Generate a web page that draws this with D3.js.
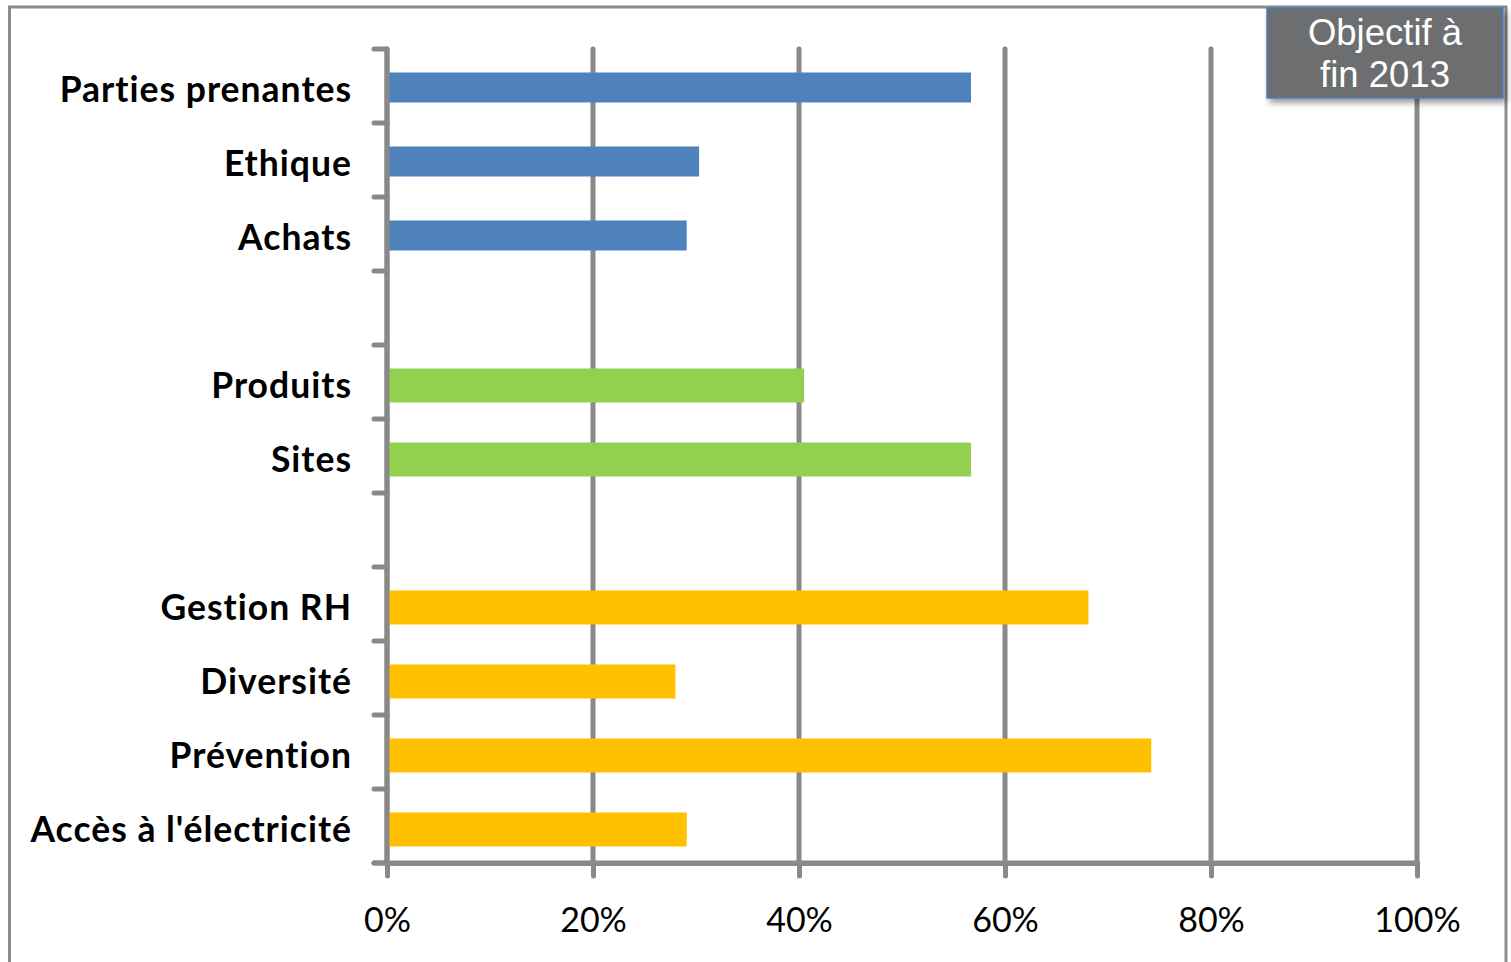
<!DOCTYPE html>
<html>
<head>
<meta charset="utf-8">
<script src="https://cdn.jsdelivr.net/npm/d3@7"></script>
<style>
  html, body { margin: 0; padding: 0; background: #fff; }
  svg { display: block; }
  text { font-variant-ligatures: none; }
</style>
</head>
<body>
<svg id="chart" width="1511" height="962"></svg>
<script>
// ---- data ----
const categories = ["Parties prenantes", "Ethique", "Achats", "gap1", "Produits", "Sites", "gap2", "Gestion RH", "Diversité", "Prévention", "Accès à l'électricité"];
const groups     = ["A", "A", "A", null, "B", "B", null, "C", "C", "C", "C"];
const values     = [0.567, 0.303, 0.291, null, 0.405, 0.567, null, 0.681, 0.280, 0.742, 0.291];
const xTicks     = [0, 0.2, 0.4, 0.6, 0.8, 1.0];
const boxLines   = ["Objectif à", "fin 2013"];

// ---- styles ----
const groupColor  = { A: "#4f81bd", B: "#92d050", C: "#ffc000" };
const groupHeight = { A: 30, B: 34, C: 34 };
const groupShift  = { A: 1.5, B: 3.5, C: 3.5 };
const axisColor = "#898989";

const svg = d3.select("#chart");

// outer frame
svg.append("rect")
  .attr("x", 9.5).attr("y", 7).attr("width", 1496.5).attr("height", 970)
  .attr("fill", "none").attr("stroke", "#8c8c8c").attr("stroke-width", 3);

const x = d3.scaleLinear().domain([0, 1]).range([387, 1417]);
const y = d3.scaleBand().domain(categories).range([49, 863]).padding(0);

// gridlines
svg.append("g")
  .selectAll("line").data(xTicks).join("line")
  .attr("x1", d => x(d)).attr("x2", d => x(d))
  .attr("y1", 49).attr("y2", 863)
  .attr("stroke", axisColor).attr("stroke-width", 5).attr("stroke-linecap", "round");

// bars
const rows = categories.map((c, i) => ({ c, g: groups[i], v: values[i] })).filter(d => d.v !== null);
svg.append("g")
  .selectAll("rect").data(rows).join("rect")
  .attr("x", x(0))
  .attr("y", d => y(d.c) + y.bandwidth() / 2 - groupHeight[d.g] / 2 + groupShift[d.g])
  .attr("width", d => x(d.v) - x(0))
  .attr("height", d => groupHeight[d.g])
  .attr("fill", d => groupColor[d.g]);

// x axis
const xAxis = d3.axisBottom(x).tickValues(xTicks).tickFormat(d3.format(".0%"))
  .tickSizeInner(13).tickSizeOuter(0).tickPadding(20);
const gx = svg.append("g").attr("transform", "translate(0,863)").call(xAxis);
gx.select(".domain").attr("stroke", axisColor).attr("stroke-width", 5);
gx.selectAll(".tick line").attr("stroke", axisColor).attr("stroke-width", 5).attr("stroke-linecap", "round");
gx.selectAll(".tick text")
  .attr("font-family", "Lato, sans-serif").attr("font-size", 34).attr("fill", "#000")
  .attr("dy", null).attr("y", 0)
  .attr("transform", "translate(0,69)");

// y axis line and boundary ticks
const boundaries = categories.map(c => y(c)).concat([y.range()[1]]);
svg.append("line")
  .attr("x1", x(0)).attr("x2", x(0)).attr("y1", 49).attr("y2", 863)
  .attr("stroke", axisColor).attr("stroke-width", 5);
svg.append("g").selectAll("line").data(boundaries).join("line")
  .attr("x1", 374).attr("x2", x(0)).attr("y1", d => d).attr("y2", d => d)
  .attr("stroke", axisColor).attr("stroke-width", 5).attr("stroke-linecap", "round");
svg.append("line")
  .attr("x1", 374).attr("x2", x(1)).attr("y1", 863).attr("y2", 863)
  .attr("stroke", axisColor).attr("stroke-width", 5).attr("stroke-linecap", "round");

// category labels
svg.append("g").selectAll("text").data(rows).join("text")
  .attr("x", 352)
  .attr("y", d => y(d.c) + y.bandwidth() / 2 + 16)
  .attr("text-anchor", "end")
  .attr("font-family", "Lato, sans-serif").attr("font-weight", "bold").attr("font-size", 35.5)
  .attr("letter-spacing", 1)
  .attr("fill", "#000")
  .text(d => d.c);

// objective box
const defs = svg.append("defs");
const f = defs.append("filter").attr("id", "shadow").attr("x", "-10%").attr("y", "-10%").attr("width", "130%").attr("height", "140%");
f.append("feDropShadow").attr("dx", 3).attr("dy", 4).attr("stdDeviation", 3).attr("flood-color", "#000").attr("flood-opacity", 0.4);
const box = svg.append("g");
box.append("rect")
  .attr("x", 1267).attr("y", 8).attr("width", 236).attr("height", 90)
  .attr("fill", "#6d6e70").attr("stroke", "#4a7ebb").attr("stroke-width", 1.5)
  .attr("filter", "url(#shadow)");
box.selectAll("text").data(boxLines).join("text")
  .attr("x", 1385).attr("y", (d, i) => 45 + i * 42)
  .attr("text-anchor", "middle")
  .attr("font-family", "'Liberation Sans', Arial, sans-serif").attr("font-size", 36.5)
  .attr("fill", "#fff")
  .text(d => d);
</script>
</body>
</html>
